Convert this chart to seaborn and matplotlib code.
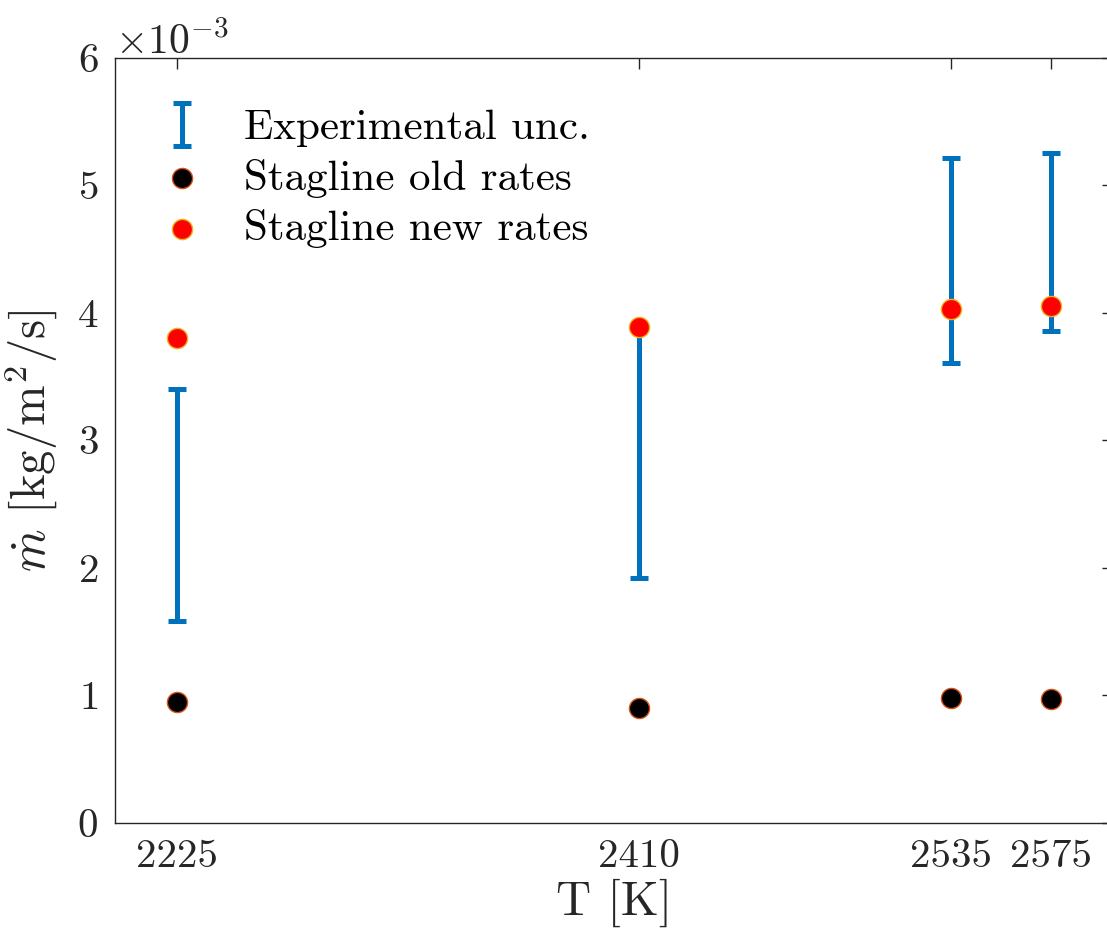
import numpy as np
import pandas as pd
import matplotlib
matplotlib.use("Agg")
import matplotlib.pyplot as plt
import seaborn as sns

# ---- data ----
T = [2225, 2410, 2535, 2575]
exp_lower = [1.58e-3, 1.92e-3, 3.61e-3, 3.86e-3]
exp_upper = [3.40e-3, 3.88e-3, 5.21e-3, 5.25e-3]
old_rates = [0.95e-3, 0.90e-3, 0.98e-3, 0.97e-3]
new_rates = [3.80e-3, 3.89e-3, 4.03e-3, 4.05e-3]
xticks = [2225, 2410, 2535, 2575]
yticks = [0, 1e-3, 2e-3, 3e-3, 4e-3, 5e-3, 6e-3]
labels = ['Experimental unc.', 'Stagline old rates', 'Stagline new rates']

sns.set_style("white")
plt.rcParams['font.family'] = 'serif'
plt.rcParams['font.serif'] = ['cmr10', 'DejaVu Serif']
plt.rcParams['mathtext.fontset'] = 'cm'
plt.rcParams['axes.formatter.use_mathtext'] = True
plt.rcParams['axes.unicode_minus'] = False

fig = plt.figure(figsize=(11.07, 9.44), dpi=100)
ax = fig.add_axes([0.1039, 0.1282, 0.9016, 0.8107])

lo = np.array(exp_lower)
hi = np.array(exp_upper)
center = (lo + hi) / 2
half = (hi - lo) / 2
eb = ax.errorbar(T, center, yerr=half, fmt='none', ecolor='#0072BD',
                 elinewidth=3.6, capsize=6.5, capthick=3.6, zorder=2,
                 label=labels[0])

df_old = pd.DataFrame({'T': T, 'mdot': old_rates})
df_new = pd.DataFrame({'T': T, 'mdot': new_rates})
sns.scatterplot(data=df_old, x='T', y='mdot', ax=ax, color='black',
                edgecolor='#D95319', linewidth=1.0, s=210, zorder=3,
                label=labels[1])
sns.scatterplot(data=df_new, x='T', y='mdot', ax=ax, color='red',
                edgecolor='#EDB120', linewidth=1.0, s=210, zorder=4,
                label=labels[2])

ax.set_xlim(2200, 2600)
ax.set_ylim(0, 6e-3)
ax.set_xticks(xticks)
ax.set_xticklabels([str(t) for t in xticks])
ax.set_yticks(yticks)
ax.ticklabel_format(axis='y', style='sci', scilimits=(-3, -3))

ax.tick_params(axis='both', which='major', direction='in', length=8,
               width=1.0, color='#262626', labelsize=29.5, labelcolor='#262626',
               top=True, right=True, pad=12)
ax.yaxis.get_offset_text().set_fontsize(30)
ax.yaxis.get_offset_text().set_color('#262626')
for sp in ax.spines.values():
    sp.set_color('#262626')
    sp.set_linewidth(1.0)

ax.set_xlabel('T [K]', fontsize=35, color='#262626', labelpad=2)
ax.set_ylabel(r'$\dot{m}$ [kg/m$^2$/s]', fontsize=35, color='#262626', labelpad=12)

handles, labs = ax.get_legend_handles_labels()
order = [labs.index(l) for l in labels]
leg = ax.legend([handles[i] for i in order], [labs[i] for i in order],
                loc='upper left', frameon=False, fontsize=31,
                bbox_to_anchor=(0.03, 0.955), handlelength=0.9, handletextpad=1.0,
                labelspacing=0.26, borderaxespad=0.0)
for t in leg.get_texts():
    t.set_color('black')

fig.savefig('out.png', dpi=100)
